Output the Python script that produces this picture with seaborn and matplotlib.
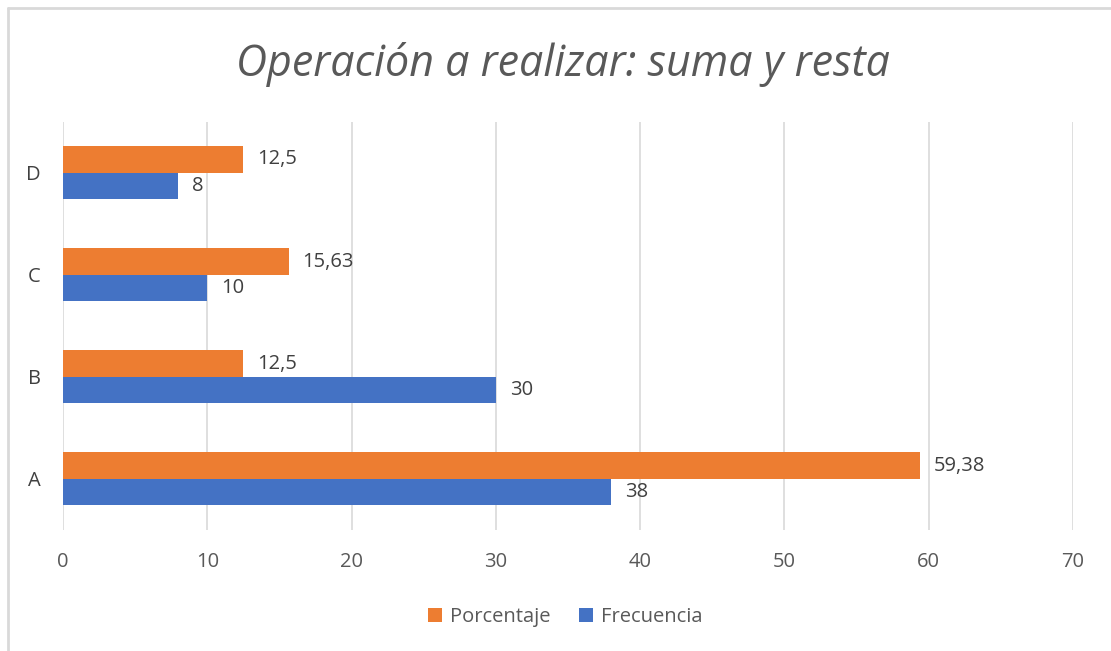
import numpy as np
import pandas as pd
import matplotlib.pyplot as plt
import seaborn as sns

# data
categories = ["D", "C", "B", "A"]
porcentaje = [12.5, 15.63, 12.5, 59.38]
frecuencia = [8, 10, 30, 38]
series_names = ["Porcentaje", "Frecuencia"]
x_ticks = [0, 10, 20, 30, 40, 50, 60, 70]

df = pd.DataFrame({
    "cat": categories * 2,
    "valor": porcentaje + frecuencia,
    "serie": [series_names[0]] * len(categories) + [series_names[1]] * len(categories),
})

sns.set_theme(style="white")
plt.rcParams["font.family"] = ["Open Sans", "DejaVu Sans"]

text_gray = "#595959"
fig = plt.figure(figsize=(11.11, 6.51), dpi=100)
ax = fig.add_axes([0.0567, 0.186, 0.9091, 0.627])

sns.barplot(
    data=df, y="cat", x="valor", hue="serie",
    order=categories, hue_order=series_names,
    palette={"Porcentaje": "#ED7D31", "Frecuencia": "#4472C4"},
    orient="h", width=0.52, gap=0, saturation=1, linewidth=0,
    ax=ax, legend=True,
)

# data labels, decimal comma
for cont, vals in zip(ax.containers, [porcentaje, frecuencia]):
    labels = [f"{v:g}".replace(".", ",") for v in vals]
    ax.bar_label(cont, labels=labels, padding=10, fontsize=14.5, color="#404040")

ax.set_xlim(0, 70)
ax.set_ylim(3.5, -0.5)
ax.set_xticks(x_ticks)
ax.grid(axis="x", color="#D9D9D9", linewidth=1.2)
ax.set_axisbelow(True)
for s in ax.spines.values():
    s.set_visible(False)
ax.tick_params(axis="x", length=0, pad=16, labelsize=14.5, labelcolor=text_gray)
ax.tick_params(axis="y", length=0, pad=16, labelsize=14.5, labelcolor="#404040")
ax.set_xlabel("")
ax.set_ylabel("")

fig.suptitle("Operación a realizar: suma y resta", x=0.507, y=0.935,
             fontsize=31, style="italic", color=text_gray)

handles, labs = ax.get_legend_handles_labels()
ax.legend_.remove()
fig.legend(handles, labs, loc="center", bbox_to_anchor=(0.509, 0.052), ncol=2,
           frameon=False, fontsize=14.5, handlelength=0.7, handleheight=0.7,
           handletextpad=0.4, columnspacing=1.4, labelcolor=text_gray)

# partial chart border (top and left edges visible)
fig.add_artist(plt.Line2D([0.0068, 1.0], [0.987, 0.987], color="#D9D9D9", lw=2))
fig.add_artist(plt.Line2D([0.0068, 0.0068], [0.0, 0.987], color="#D9D9D9", lw=2))

fig.savefig("out.png", dpi=100)
